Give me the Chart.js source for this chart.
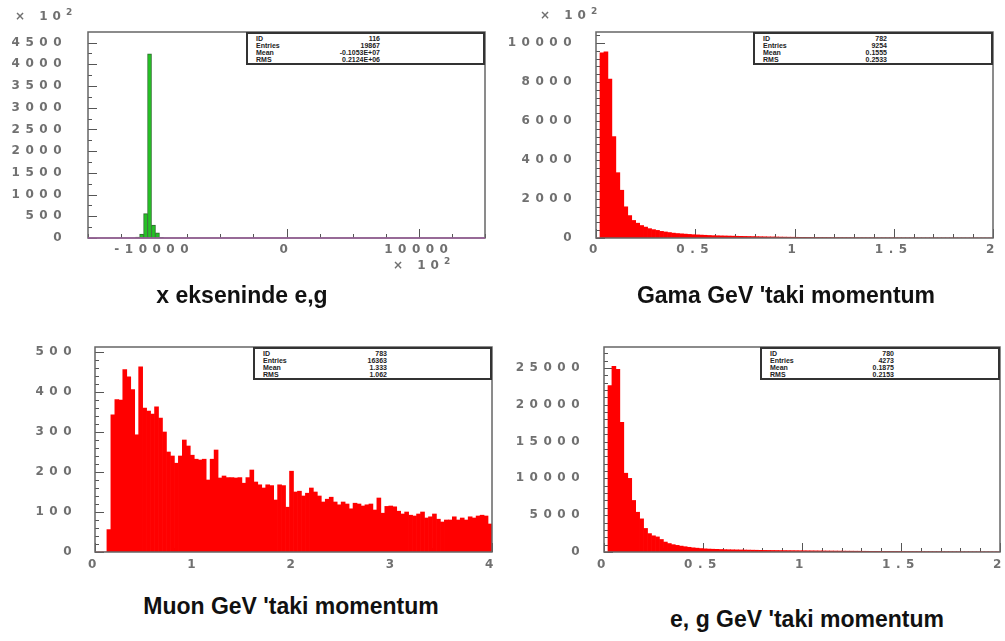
<!DOCTYPE html>
<html>
<head>
<meta charset="utf-8">
<script src="https://cdn.jsdelivr.net/npm/chart.js@4.4.1/dist/chart.umd.min.js"></script>
<style>
  body { margin: 0; background: #fff; }
  #page { position: relative; width: 1005px; height: 641px; overflow: hidden; background: #fff; }
  canvas { position: absolute; }
  .caption { position: absolute; width: 500px; text-align: center; font: bold 23px "Liberation Sans", Arial, sans-serif; line-height: 23px; color: #111; white-space: nowrap; }
  .expo { position: absolute; font: bold 12px "DejaVu Sans", sans-serif; color: #707070; letter-spacing: 5px; white-space: nowrap; }
  .expo sup { font-size: 9px; letter-spacing: 0; }
  .stats { position: absolute; box-sizing: border-box; border: 2px solid #333; background: #fff; padding: 1px 0 0 8px; font: bold 7px "Liberation Sans", Arial, sans-serif; color: #222; }
  .stats div { height: 7px; line-height: 7px; display: flex; }
  .stats span { width: 58px; }
  .stats b { width: 66px; text-align: right; }
</style>
</head>
<body>
<div id="page">
  <canvas id="c1" width="500" height="280" style="left:0;top:0"></canvas>
  <canvas id="c2" width="505" height="280" style="left:500px;top:0"></canvas>
  <canvas id="c3" width="500" height="290" style="left:0;top:300px"></canvas>
  <canvas id="c4" width="505" height="290" style="left:500px;top:300px"></canvas>

  <div class="expo" style="left:15px;top:7px">× 10<sup>2</sup></div>
  <div class="expo" style="left:540px;top:6px">× 10<sup>2</sup></div>
  <div class="expo" style="left:393px;top:256px">× 10<sup>2</sup></div>

  <div class="stats" id="s1" style="left:246px;top:32px;width:239px;height:33px"></div>
  <div class="stats" id="s2" style="left:753px;top:32px;width:240px;height:33px"></div>
  <div class="stats" id="s3" style="left:253px;top:347px;width:239px;height:33px"></div>
  <div class="stats" id="s4" style="left:760px;top:347px;width:240px;height:33px"></div>

  <div class="caption" style="left:-8px;top:284px">x ekseninde e,g</div>
  <div class="caption" style="left:536px;top:284px">Gama GeV 'taki momentum</div>
  <div class="caption" style="left:41px;top:595px">Muon GeV 'taki momentum</div>
  <div class="caption" style="left:557px;top:608px">e, g GeV 'taki momentum</div>
</div>
<script>
// x ekseninde e,g (x 10^2), only the filled bins, width 300
const ekseniBins = [-11250, -10950, -10650, -10350, -10050, -9750, -9450];
const ekseniCounts = [20, 90, 560, 4240, 300, 120, 15];
const ekseniXTicks = [-10000, 0, 10000];
const ekseniYTicks = [0, 500, 1000, 1500, 2000, 2500, 3000, 3500, 4000, 4500];

// Gama momentum, 100 bins 0..2 GeV
const gamaBinWidth = 0.02;
const gamaCounts = [
  0, 9500, 9550, 8150, 5200, 3350, 2450, 1600, 1150, 900,
  760, 640, 560, 480, 430, 390, 340, 310, 280, 250,
  230, 215, 200, 185, 170, 160, 150, 140, 130, 120,
  115, 110, 105, 100, 95, 90, 86, 82, 78, 74,
  70, 66, 62, 58, 55, 52, 48, 45, 42, 40,
  37, 35, 33, 31, 29, 27, 25, 24, 22, 21,
  20, 19, 18, 17, 16, 15, 14, 13, 12, 12,
  11, 10, 10, 9, 9, 8, 8, 7, 7, 6,
  6, 6, 5, 5, 5, 4, 4, 4, 3, 3,
  3, 3, 3, 2, 2, 2, 2, 2, 1, 1
];
const gamaXTicks = [0, 0.5, 1, 1.5, 2];
const gamaYTicks = [0, 2000, 4000, 6000, 8000, 10000];

// Muon momentum, 100 bins 0..4 GeV
const muonBinWidth = 0.04;
const muonCounts = [
  0, 0, 0, 56, 343, 381, 380, 456, 438, 406,
  293, 463, 360, 352, 345, 363, 335, 300, 250, 240,
  222, 240, 280, 265, 242, 232, 230, 232, 180, 232,
  255, 185, 190, 186, 186, 185, 186, 172, 186, 205,
  175, 168, 160, 168, 166, 130, 168, 166, 112, 202,
  150, 152, 140, 147, 160, 150, 140, 125, 132, 137,
  125, 118, 125, 120, 108, 122, 120, 115, 118, 120,
  105, 135, 97, 114, 115, 113, 102, 95, 100, 92,
  90, 95, 100, 85, 88, 95, 82, 75, 80, 80,
  88, 80, 85, 80, 88, 85, 90, 92, 90, 70
];
const muonXTicks = [0, 1, 2, 3, 4];
const muonYTicks = [0, 100, 200, 300, 400, 500];

// e,g momentum, 100 bins 0..2 GeV
const egBinWidth = 0.02;
const egCounts = [
  0, 22600, 25200, 24800, 17600, 10700, 10000, 7000, 5400, 4500,
  3200, 2500, 2200, 2050, 1700, 1350, 1150, 1000, 900, 800,
  720, 640, 570, 520, 470, 430, 400, 380, 360, 340,
  320, 310, 300, 290, 280, 270, 260, 250, 240, 230,
  220, 215, 210, 205, 200, 195, 190, 185, 180, 175,
  170, 165, 160, 155, 150, 145, 140, 135, 130, 125,
  120, 116, 112, 108, 104, 100, 96, 92, 88, 85,
  82, 79, 76, 73, 70, 67, 64, 61, 58, 56,
  54, 52, 50, 48, 46, 44, 42, 40, 38, 36,
  34, 32, 30, 29, 28, 27, 26, 25, 24, 23
];
const egXTicks = [0, 0.5, 1, 1.5, 2];
const egYTicks = [0, 5000, 10000, 15000, 20000, 25000];

// stats boxes
const statLabels = ['ID', 'Entries', 'Mean', 'RMS'];
const ekseniStats = ['116', '19867', '-0.1053E+07', '0.2124E+06'];
const gamaStats = ['782', '9254', '0.1555', '0.2533'];
const muonStats = ['783', '16363', '1.333', '1.062'];
const egStats = ['780', '4273', '0.1875', '0.2153'];

function fillStats(id, values) {
  const box = document.getElementById(id);
  statLabels.forEach((lab, i) => {
    const row = document.createElement('div');
    row.innerHTML = '<span>' + lab + '</span><b>' + values[i] + '</b>';
    box.appendChild(row);
  });
}
fillStats('s1', ekseniStats);
fillStats('s2', gamaStats);
fillStats('s3', muonStats);
fillStats('s4', egStats);

function binPoints(counts, width) {
  return counts.map((c, i) => ({ x: (i + 0.5) * width, y: c }));
}

function isMult(v, step) {
  return Math.abs(v / step - Math.round(v / step)) < 1e-6;
}

// ROOT-like frame with inward ticks
const rootAxes = {
  id: 'rootAxes',
  beforeDraw(chart) {
    chart.ctx.letterSpacing = '5.5px';
  },
  beforeDatasetsDraw(chart, args, o) {
    const { ctx, chartArea: a, scales: { x, y } } = chart;
    ctx.save();
    ctx.strokeStyle = '#555';
    ctx.lineWidth = 1;
    ctx.beginPath();
    for (let i = 0; i * o.yMinor <= y.max + 1e-9; i++) {
      const v = i * o.yMinor;
      const len = isMult(v, o.yMajor) ? 9 : 4;
      const py = Math.round(y.getPixelForValue(v)) + 0.5;
      ctx.moveTo(a.left, py);
      ctx.lineTo(a.left + len, py);
    }
    for (let i = Math.ceil(x.min / o.xMinor - 1e-9); i * o.xMinor <= x.max + 1e-9; i++) {
      const v = i * o.xMinor;
      const len = isMult(v, o.xMajor) ? 9 : 4;
      const px = Math.round(x.getPixelForValue(v)) + 0.5;
      ctx.moveTo(px, a.bottom);
      ctx.lineTo(px, a.bottom - len);
    }
    ctx.stroke();
    ctx.restore();
  },
  afterDatasetsDraw(chart, args, o) {
    const { ctx, chartArea: a } = chart;
    ctx.save();
    ctx.strokeStyle = '#666';
    ctx.lineWidth = 1.5;
    ctx.strokeRect(a.left, a.top, a.right - a.left, a.bottom - a.top);
    if (o.bottomColor) {
      ctx.strokeStyle = o.bottomColor;
      ctx.beginPath();
      ctx.moveTo(a.left, a.bottom);
      ctx.lineTo(a.right, a.bottom);
      ctx.stroke();
    }
    ctx.restore();
  }
};

const tickFont = { family: 'DejaVu Sans', size: 12, weight: 'bold' };

function makeHist(id, p) {
  return new Chart(document.getElementById(id), {
    type: 'bar',
    data: {
      datasets: [{
        data: p.points,
        backgroundColor: p.fill,
        borderColor: p.border || p.fill,
        borderWidth: p.borderWidth || 0,
        barPercentage: 1,
        categoryPercentage: 1
      }]
    },
    options: {
      responsive: false,
      animation: false,
      layout: { padding: { top: p.padTop, right: p.padRight, left: 0, bottom: 0 } },
      plugins: {
        legend: { display: false },
        tooltip: { enabled: false },
        rootAxes: { yMinor: p.yMinor, yMajor: p.yMajor, xMinor: p.xMinor, xMajor: p.xMajor, bottomColor: p.bottomColor }
      },
      scales: {
        x: {
          type: 'linear',
          min: p.xMin,
          max: p.xMax,
          offset: false,
          grid: { display: false, drawTicks: false, offset: false },
          border: { display: false },
          afterBuildTicks: s => { s.ticks = p.xTicks.map(v => ({ value: v })); },
          ticks: {
            maxRotation: 0,
            autoSkip: false,
            padding: p.xPad,
            color: '#707070',
            font: tickFont,
            callback: v => String(v)
          },
          afterFit: s => { s.height = p.xHeight; s.paddingLeft = 0; s.paddingRight = 0; }
        },
        y: {
          min: 0,
          max: p.yMax,
          grid: { display: false, drawTicks: false },
          border: { display: false },
          afterBuildTicks: s => { s.ticks = p.yTicks.map(v => ({ value: v })); },
          ticks: {
            autoSkip: false,
            padding: p.yPad,
            color: '#707070',
            font: tickFont,
            callback: v => String(v)
          },
          afterFit: s => { s.width = p.yWidth; s.paddingTop = 0; s.paddingBottom = 0; }
        }
      }
    },
    plugins: [rootAxes]
  });
}

makeHist('c1', {
  points: ekseniBins.map((b, i) => ({ x: b, y: ekseniCounts[i] })),
  fill: '#22c322', border: '#2d6b2d', borderWidth: 1,
  xMin: -15000, xMax: 15000, xTicks: ekseniXTicks, xMinor: 2500, xMajor: 10000,
  yMax: 4744, yTicks: ekseniYTicks, yMinor: 250, yMajor: 500,
  padTop: 32, padRight: 15, yWidth: 88, xHeight: 42, xPad: 5, yPad: 21,
  bottomColor: '#9b5f9b'
});

makeHist('c2', {
  points: binPoints(gamaCounts, gamaBinWidth),
  fill: '#ff0000',
  xMin: 0, xMax: 2, xTicks: gamaXTicks, xMinor: 0.1, xMajor: 0.5,
  yMax: 10564, yTicks: gamaYTicks, yMinor: 400, yMajor: 2000,
  padTop: 32, padRight: 12, yWidth: 96, xHeight: 42, xPad: 5, yPad: 19
});

makeHist('c3', {
  points: binPoints(muonCounts, muonBinWidth),
  fill: '#ff0000',
  xMin: 0, xMax: 4, xTicks: muonXTicks, xMinor: 0.2, xMajor: 1,
  yMax: 512.5, yTicks: muonYTicks, yMinor: 20, yMajor: 100,
  padTop: 47, padRight: 8, yWidth: 95, xHeight: 38, xPad: 6, yPad: 18
});

makeHist('c4', {
  points: binPoints(egCounts, egBinWidth),
  fill: '#ff0000',
  xMin: 0, xMax: 2, xTicks: egXTicks, xMinor: 0.1, xMajor: 0.5,
  yMax: 27840, yTicks: egYTicks, yMinor: 1000, yMajor: 5000,
  padTop: 47, padRight: 5, yWidth: 104, xHeight: 38, xPad: 6, yPad: 19
});
</script>
</body>
</html>
